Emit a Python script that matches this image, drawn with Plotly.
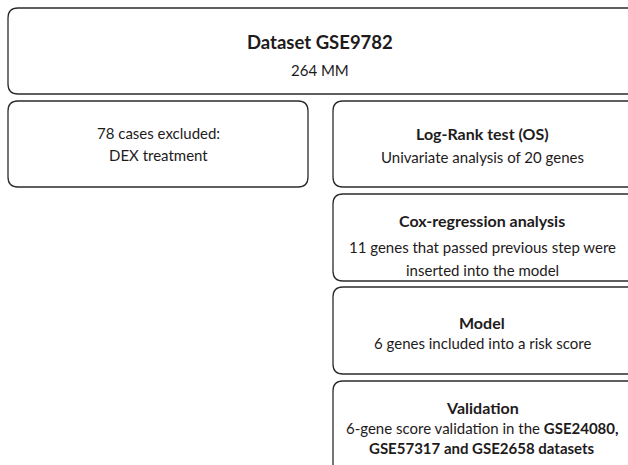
import plotly.graph_objects as go

# Flowchart content
box_titles = ["Dataset GSE9782", "", "Log-Rank test (OS)", "Cox-regression analysis", "Model", "Validation"]
box_lines = [
    ["264 MM"],
    ["78 cases excluded:", "DEX treatment"],
    ["Univariate analysis of 20 genes"],
    ["11 genes that passed previous step were", "inserted into the model"],
    ["6 genes included into a risk score"],
    ["6-gene score validation in the <b>GSE24080,</b>", "<b>GSE57317 and GSE2658 datasets</b>"],
]

W, H = 628, 465
# box geometry (x0, x1, y0, y1) in page-pixel coordinates
boxes = [
    (8, 638, 8, 94),
    (8, 308, 101, 187),
    (333, 638, 101, 187),
    (333, 638, 194, 281),
    (333, 638, 287, 374),
    (333, 638, 381, 480),
]
text_x = [320, 158, 482, 482, 482, 482]
title_y = [42, None, 133, 220, 322, 407]
line_y = [
    [70],
    [133, 155],
    [157],
    [247, 270],
    [343],
    [428, 448],
]

FONT = "Lato"
R = 10
COL = "#1e1b1c"


def rounded(x0, x1, y0, y1, r=R):
    return (f"M {x0+r},{y0} L {x1-r},{y0} Q {x1},{y0} {x1},{y0+r} "
            f"L {x1},{y1-r} Q {x1},{y1} {x1-r},{y1} L {x0+r},{y1} "
            f"Q {x0},{y1} {x0},{y1-r} L {x0},{y0+r} Q {x0},{y0} {x0+r},{y0} Z")


fig = go.Figure()
shapes = []
annotations = []
for i, (x0, x1, y0, y1) in enumerate(boxes):
    shapes.append(dict(type="path", path=rounded(x0, x1, y0, y1), xref="x", yref="y",
                       line=dict(color="#2b2b2b", width=1.3), fillcolor="white", layer="below"))
    cx = text_x[i]
    if box_titles[i]:
        annotations.append(dict(x=cx, y=title_y[i], xref="x", yref="y", text=f"<b>{box_titles[i]}</b>",
                                showarrow=False, xanchor="center", yanchor="middle",
                                font=dict(family=FONT, size=18.5 if i == 0 else 16, color=COL)))
    for t, yy in zip(box_lines[i], line_y[i]):
        annotations.append(dict(x=cx, y=yy, xref="x", yref="y", text=t, showarrow=False,
                                xanchor="center", yanchor="middle",
                                font=dict(family=FONT, size=15, color=COL)))

fig.update_layout(
    width=W, height=H, margin=dict(l=0, r=0, t=0, b=0),
    paper_bgcolor="white", plot_bgcolor="white",
    xaxis=dict(range=[0, W], visible=False, fixedrange=True),
    yaxis=dict(range=[H, 0], visible=False, fixedrange=True),
    shapes=shapes, annotations=annotations, showlegend=False,
)
fig.write_html(
    "out.html",
    config={"displayModeBar": False},
    post_script="document.body.style.margin='0';document.body.style.overflow='hidden';",
)
